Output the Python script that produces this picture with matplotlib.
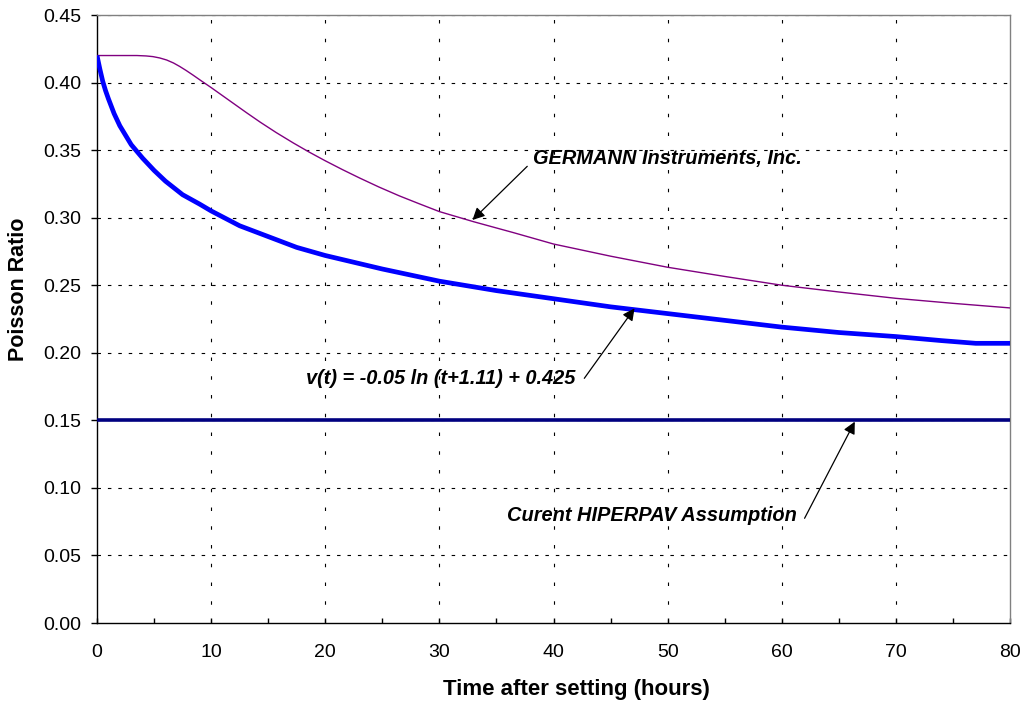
import matplotlib
matplotlib.use("Agg")
import matplotlib.pyplot as plt
from matplotlib.ticker import MultipleLocator, FormatStrFormatter

plt.rcParams['font.family'] = ['Liberation Sans', 'DejaVu Sans']
plt.rcParams['lines.scale_dashes'] = False

# --- data ---
fit_t = [0, 0.25, 0.5, 0.75, 1, 1.5, 2, 2.5, 3, 4, 5, 6, 7.5, 9, 10, 12.5, 15, 17.5,
         20, 25, 30, 35, 40, 45, 50, 55, 60, 65, 70, 74, 77, 80]
fit_v = [0.420, 0.410, 0.401, 0.394, 0.388, 0.377, 0.368, 0.361, 0.354, 0.344,
         0.335, 0.327, 0.317, 0.310, 0.305, 0.294, 0.286, 0.278, 0.272, 0.262,
         0.253, 0.246, 0.240, 0.234, 0.229, 0.224, 0.219, 0.215, 0.212, 0.209,
         0.207, 0.207]

germann_t = [0, 2, 3.5, 4.3, 4.9, 5.5, 6.1, 6.7, 7.25, 7.8, 8.4, 9.2, 10, 11, 12,
             13.1, 14.3, 15.7, 17.2, 18.6, 20, 21.5, 23, 24.7, 26.5, 28.2, 30, 33,
             36.5, 40, 45, 50, 55, 60, 65, 70, 75, 80]
germann_v = [0.420, 0.420, 0.4200, 0.4197, 0.4192, 0.4182, 0.4167, 0.4145, 0.4119,
             0.4090, 0.4056, 0.4009, 0.3963, 0.3903, 0.3843, 0.3777, 0.3707, 0.3630,
             0.3553, 0.3485, 0.3421, 0.3356, 0.3294, 0.3227, 0.3161, 0.3104, 0.3045,
             0.2970, 0.2889, 0.2805, 0.2715, 0.2633, 0.2565, 0.2500, 0.2450, 0.2403,
             0.2366, 0.2332]

hiperpav_t = [0, 80]
hiperpav_v = [0.15, 0.15]

label_germann = "GERMANN Instruments, Inc."
label_fit = "v(t) = -0.05 ln (t+1.11) + 0.425"
label_hiperpav = "Curent HIPERPAV Assumption"

fig = plt.figure(figsize=(10.26, 7.10), dpi=100)
ax = fig.add_axes([97/1026, 1 - 623/710, (1010 - 97)/1026, (623 - 15)/710])

ax.set_xlim(0, 80)
ax.set_ylim(0, 0.45)

ax.xaxis.set_major_locator(MultipleLocator(10))
ax.xaxis.set_minor_locator(MultipleLocator(5))
ax.yaxis.set_major_locator(MultipleLocator(0.05))
ax.yaxis.set_major_formatter(FormatStrFormatter('%.2f'))
for yv in [0.05 * i for i in range(1, 10)]:
    ax.axhline(yv, color='black', lw=0.8, ls=(0, (2.5, 5)), zorder=1)
for xv in range(10, 80, 10):
    ax.axvline(xv, color='black', lw=0.8, ls=(0, (2.5, 11)), zorder=1)

ax.plot(hiperpav_t, hiperpav_v, color='#000080', lw=2.6, zorder=3, solid_capstyle='butt')
ax.plot(germann_t, germann_v, color='#800080', lw=1.0, zorder=3)
ax.plot(fit_t, fit_v, color='#0000FF', lw=3.4, zorder=4, solid_capstyle='butt',
        solid_joinstyle='round')

ax.spines['left'].set_color('black')
ax.spines['bottom'].set_color('black')
ax.spines['left'].set_linewidth(1.0)
ax.spines['bottom'].set_linewidth(1.0)
for s in ['top', 'right']:
    ax.spines[s].set_color('#808080')
    ax.spines[s].set_linewidth(1.0)

ax.tick_params(axis='x', which='both', direction='in', length=3.5, width=1.0,
               labelsize=14, pad=15)
ax.tick_params(axis='y', direction='out', length=4.5, width=1.0, labelsize=14, pad=7)

fig.text(576/1026, 1 - 690/710, "Time after setting (hours)", ha='center', va='center',
         fontsize=16, fontweight='bold')
fig.text(19/1026, 1 - 289/710, "Poisson Ratio", ha='center', va='center',
         rotation=90, fontsize=15.5, fontweight='bold')

afs = 14.4
arrow = dict(arrowstyle='-|>', color='black', lw=0.9, mutation_scale=18,
             shrinkA=0, shrinkB=0)
ax.text(38.2, 0.344, label_germann, ha='left', va='center', fontsize=afs,
        fontweight='bold', fontstyle='italic', zorder=5)
ax.annotate('', xy=(32.9, 0.2983), xytext=(37.7, 0.338), arrowprops=arrow, zorder=5)

ax.text(18.35, 0.1813, label_fit, ha='left', va='center', fontsize=afs,
        fontweight='bold', fontstyle='italic', zorder=5)
ax.annotate('', xy=(47.1, 0.2329), xytext=(42.7, 0.1811), arrowprops=arrow, zorder=5)

ax.text(35.9, 0.0799, label_hiperpav, ha='left', va='center', fontsize=afs,
        fontweight='bold', fontstyle='italic', zorder=5)
ax.annotate('', xy=(66.4, 0.149), xytext=(62.0, 0.0775), arrowprops=arrow, zorder=5)

fig.savefig("out.png", dpi=100)
